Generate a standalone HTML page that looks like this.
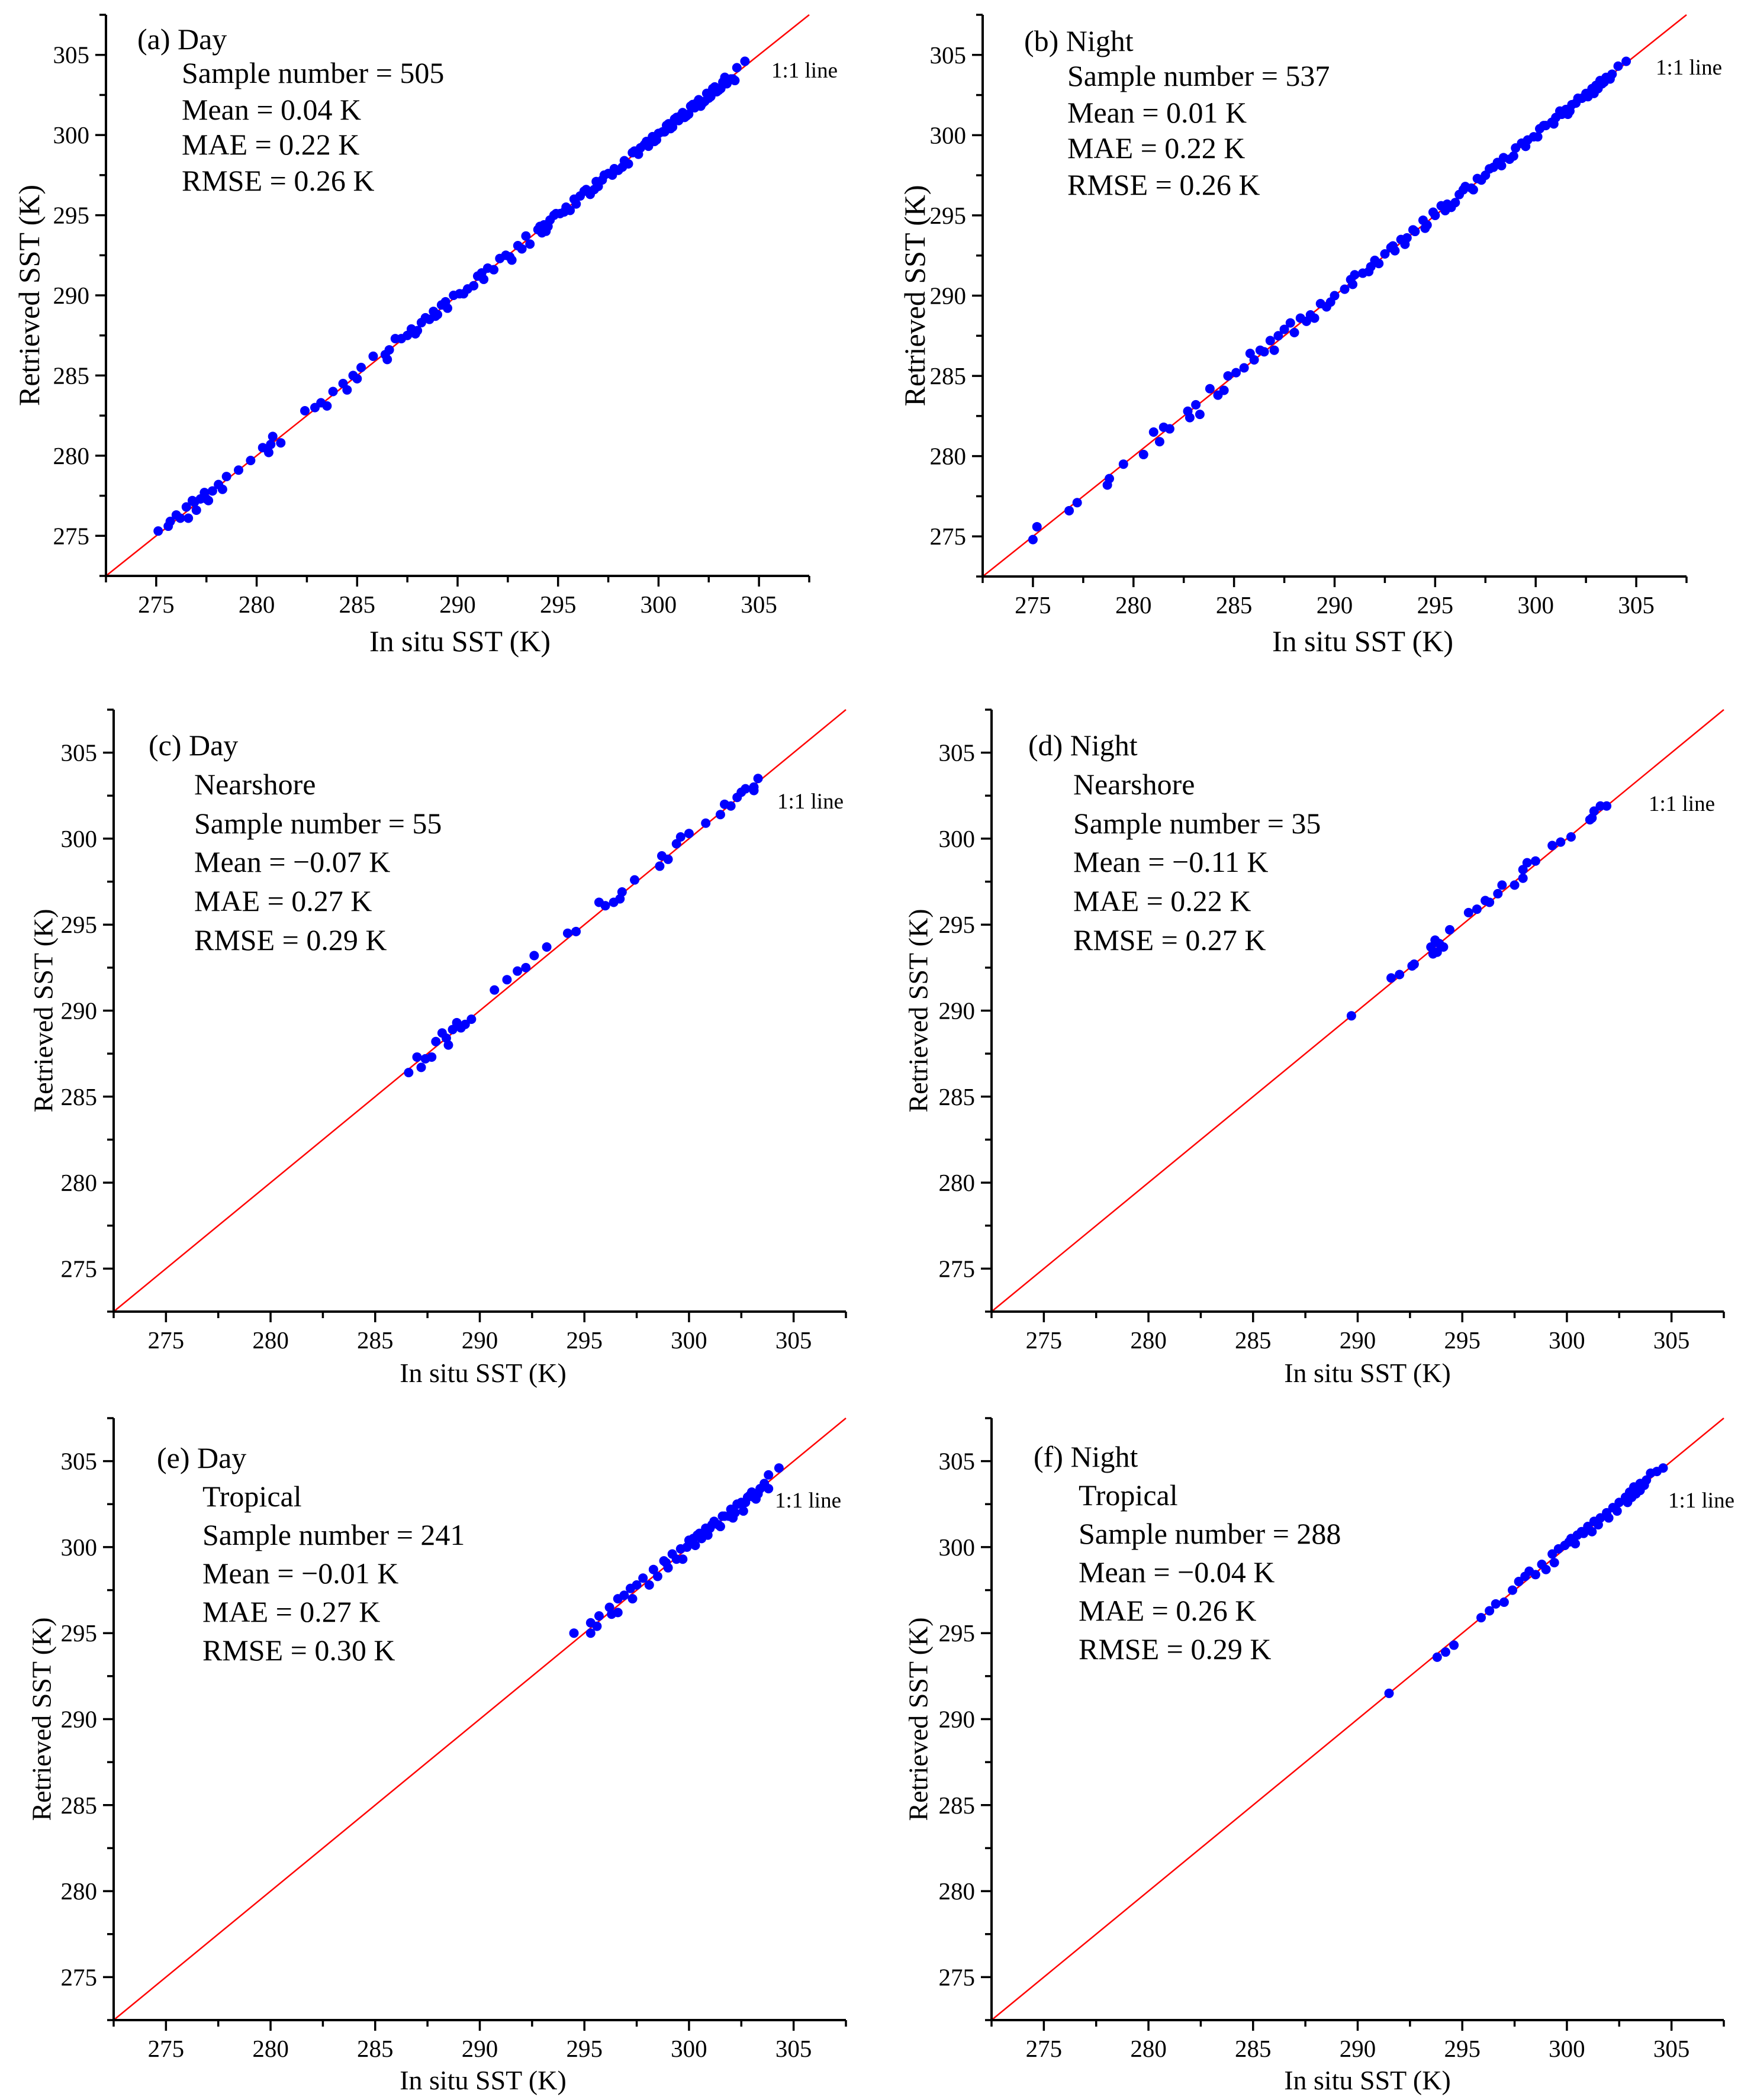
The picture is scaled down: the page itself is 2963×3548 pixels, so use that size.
<!DOCTYPE html>
<html><head><meta charset="utf-8"><style>
html,body{margin:0;padding:0;background:#fff}
svg{display:block}
text{font-family:"Liberation Serif","Times New Roman",serif;fill:#000}
</style></head><body>
<svg id="fig" xmlns="http://www.w3.org/2000/svg" width="2963" height="3548" viewBox="0 0 2963 3548"></svg>
<script>
// ---- data (In situ SST, Retrieved SST) per panel ----
const ticks = [275, 280, 285, 290, 295, 300, 305];
const axisMin = 272.5, axisMax = 307.5;

const aX = [275.1,275.6,275.7,276.0,276.2,276.5,276.6,276.9,277.0,277.2,277.4,277.6,277.8,278.1,278.3,278.5,279.1,279.7,280.3,280.6,280.8,281.2,280.7,282.4,282.9,283.2,283.5,283.8,284.3,284.5,284.8,285.0,285.2,285.8,286.4,286.6,286.5,286.9,287.2,287.5,287.7,287.9,288.2,288.4,288.6,288.8,289.0,289.2,289.5,289.8,290.1,290.5,290.8,291.0,291.3,291.5,291.8,292.1,292.4,292.7,293.0,293.4,293.6,294.0,294.3,294.5,294.8,295.1,295.4,295.6,295.8,296.1,296.3,296.6,296.9,297.2,297.5,297.8,298.0,298.3,298.5,298.8,299.0,299.3,299.5,299.7,300.0,300.2,300.4,300.6,300.8,301.0,301.2,301.4,301.6,301.8,302.0,302.2,302.4,302.6,302.8,303.0,303.2,303.4,303.6,303.8,303.9,304.3,294.2,294.6,297.0,299.8,300.9,301.5,302.3,302.9,303.3,
 276.8,277.5,288.0,288.9,289.4,290.3,291.2,292.6,293.2,294.1,294.4,294.9,295.3,295.9,296.4,296.8,297.3,297.7,298.2,298.7,299.1,299.4,299.9,300.3,300.5,300.7,301.1,301.3,301.7,301.9,302.1,302.5,302.7,303.1,303.5,303.7];
const aY = [275.3,275.6,275.9,276.3,276.1,276.8,276.1,277.1,276.6,277.3,277.7,277.2,277.8,278.2,277.9,278.7,279.1,279.7,280.5,280.2,281.2,280.8,280.7,282.8,283.0,283.3,283.1,284.0,284.5,284.1,285.0,284.8,285.5,286.2,286.3,286.6,286.0,287.3,287.3,287.5,287.9,287.6,288.3,288.6,288.5,289.0,288.8,289.4,289.2,290.0,290.1,290.4,290.6,291.2,291.0,291.7,291.6,292.3,292.5,292.2,293.1,293.7,293.2,294.1,294.4,294.3,295.0,295.1,295.5,295.3,296.0,296.2,296.5,296.3,297.1,297.2,297.6,297.9,297.8,298.4,298.2,299.0,298.8,299.4,299.3,299.9,300.1,300.2,300.6,300.4,301.0,300.9,301.4,301.2,301.8,301.7,302.2,302.0,302.6,302.4,303.0,302.8,303.3,303.2,303.5,303.4,304.2,304.6,293.9,294.7,296.8,299.6,301.1,301.3,302.1,302.7,303.6,
 277.2,277.3,287.8,288.7,289.6,290.1,291.4,292.4,292.9,294.3,294.0,295.1,295.2,295.7,296.6,296.6,297.5,297.5,298.0,298.9,299.2,299.6,299.7,300.2,300.7,300.5,301.2,301.1,301.9,302.0,301.8,302.3,302.9,302.9,303.4,303.5];

const bX = [275.0,275.2,276.8,277.2,278.7,278.8,279.5,280.5,281.0,281.3,281.5,281.8,282.7,282.8,283.1,283.3,283.8,284.2,284.5,284.7,285.1,285.5,285.8,286.0,286.5,286.8,287.2,287.5,287.8,288.0,288.3,288.8,289.0,289.3,289.8,290.0,290.5,290.8,291.0,291.4,291.8,292.0,292.5,292.8,293.0,293.3,293.6,294.0,294.4,294.6,295.0,295.3,295.6,295.8,296.2,296.5,296.8,297.1,297.5,297.9,298.1,298.4,298.7,299.0,299.3,299.6,299.9,300.2,300.5,300.8,301.0,301.3,301.5,301.8,302.0,302.3,302.5,302.8,303.0,303.2,303.5,303.8,304.1,304.5,302.9,303.3,301.6,
 286.3,287.0,288.6,289.6,290.9,291.7,292.2,292.9,293.5,293.9,294.5,294.9,295.5,296.0,296.4,296.9,297.3,297.7,298.3,298.9,299.5,300.1,300.4,300.9,301.2,301.7,302.1,302.6,303.1,303.4,303.7];
const bY = [274.8,275.6,276.6,277.1,278.2,278.6,279.5,280.1,281.5,280.9,281.8,281.7,282.8,282.4,283.2,282.6,284.2,283.8,284.1,285.0,285.2,285.5,286.4,286.0,286.5,287.2,287.5,287.9,288.3,287.7,288.6,288.8,288.6,289.5,289.6,290.0,290.4,291.0,291.3,291.4,291.8,292.2,292.6,293.0,292.8,293.5,293.6,294.0,294.7,294.4,295.0,295.6,295.7,295.5,296.3,296.8,296.7,297.3,297.5,298.0,298.3,298.6,298.5,299.2,299.5,299.7,299.9,300.4,300.6,300.8,301.1,301.3,301.6,301.9,302.0,302.3,302.6,302.9,303.1,303.4,303.6,303.8,304.3,304.6,302.6,303.2,301.3,
 286.6,286.6,288.4,289.3,290.7,291.5,292.0,293.1,293.2,294.1,294.2,295.2,295.3,295.8,296.6,296.6,297.2,297.9,298.1,298.7,299.3,299.9,300.6,300.7,301.5,301.5,302.3,302.4,302.9,303.3,303.5];

const cX = [286.6,287.0,287.2,287.4,287.7,287.9,288.2,288.4,288.5,288.7,288.9,289.1,289.3,289.6,290.7,291.3,291.8,292.2,292.6,293.2,294.2,294.6,295.7,296.0,296.4,296.8,296.7,297.4,298.6,298.7,299.0,299.4,299.6,300.0,300.8,301.5,301.7,302.0,302.3,302.5,302.7,303.1,303.3,303.1];
const cY = [286.4,287.3,286.7,287.2,287.3,288.2,288.7,288.4,288.0,288.9,289.3,289.0,289.2,289.5,291.2,291.8,292.3,292.5,293.2,293.7,294.5,294.6,296.3,296.1,296.3,296.9,296.5,297.6,298.4,299.0,298.8,299.7,300.1,300.3,300.9,301.4,302.0,301.9,302.4,302.7,302.9,303.0,303.5,302.8];

const dX = [289.7,291.6,292.0,292.6,292.7,293.5,293.7,293.6,293.8,293.9,294.1,294.4,295.3,295.7,296.1,296.3,296.7,296.9,297.5,297.9,297.9,298.1,298.5,299.3,299.7,300.2,301.1,301.3,301.6,301.9,301.2];
const dY = [289.7,291.9,292.1,292.6,292.7,293.7,294.1,293.3,293.4,293.9,293.7,294.7,295.7,295.9,296.4,296.3,296.8,297.3,297.3,297.7,298.2,298.6,298.7,299.6,299.8,300.1,301.1,301.6,301.9,301.9,301.2];

const eX = [294.5,295.3,295.3,295.6,295.7,296.2,296.3,296.6,296.6,296.9,297.2,297.3,297.5,297.8,298.1,298.3,298.5,298.8,299.0,299.2,299.6,299.7,300.0,300.3,300.4,300.8,300.9,301.2,301.5,301.7,302.0,302.1,302.5,302.6,302.9,303.2,303.4,303.6,303.8,303.8,304.3,299.4,300.6,301.0,301.9,302.3,302.8,303.1,
 298.9,299.9,300.5,301.1,301.4,302.2,302.7,303.0,303.3,300.2,301.6];
const eY = [295.0,295.6,295.0,295.4,296.0,296.5,296.1,296.2,297.0,297.2,297.6,297.0,297.8,298.2,297.8,298.7,298.3,299.2,298.8,299.6,299.9,299.3,300.4,300.1,300.7,301.1,300.7,301.5,301.2,301.8,302.2,301.7,302.6,302.1,303.0,302.8,303.4,303.7,303.4,304.2,304.6,299.3,300.5,301.1,301.8,302.5,302.9,302.9,
 299.1,300.0,300.8,301.3,301.3,302.0,302.6,303.2,303.1,300.5,301.8];

const fX = [291.5,293.8,294.2,294.6,295.9,296.3,296.6,297.0,297.4,297.7,298.0,298.2,298.5,298.8,299.0,299.3,299.6,299.9,300.2,300.5,300.8,301.0,301.3,301.6,301.9,302.2,302.5,302.8,303.0,303.2,303.5,303.8,304.0,304.3,304.6,302.9,302.0,301.2,300.4,299.4,303.5,
 300.1,300.7,301.5,302.4,303.1,303.3,303.7];
const fY = [291.5,293.6,293.9,294.3,295.9,296.3,296.7,296.8,297.5,298.0,298.3,298.6,298.4,299.0,298.7,299.6,299.9,300.1,300.5,300.7,300.8,301.2,301.5,301.7,302.0,302.3,302.6,302.9,303.2,303.5,303.7,303.9,304.3,304.4,304.6,302.6,301.7,300.9,300.2,299.1,303.3,
 300.3,300.9,301.3,302.1,302.9,303.1,303.6];

const panels = [
 {id:'a', xs:aX, ys:aY, x0:179, x1:1367, y0:25, y1:973, tx:232, lx:307, base:[83,140,202,261,322], head:'(a) Day',
  lines:['Sample number = 505','Mean = 0.04 K','MAE = 0.22 K','RMSE = 0.26 K'], ox:1303, oy:131, xtx:777, xty:1100, ytx:49, fs:50},
 {id:'b', xs:bX, ys:bY, x0:1660, x1:2849, y0:25, y1:974, tx:1730, lx:1803, base:[86,145,207,267,329], head:'(b) Night',
  lines:['Sample number = 537','Mean = 0.01 K','MAE = 0.22 K','RMSE = 0.26 K'], ox:2797, oy:126, xtx:2302, xty:1100, ytx:1545, fs:50},
 {id:'c', xs:cX, ys:cY, x0:192, x1:1429, y0:1199, y1:2216, tx:251, lx:328, base:[1276,1342,1408,1473,1539,1605], head:'(c) Day',
  lines:['Nearshore','Sample number = 55','Mean = \u22120.07 K','MAE = 0.27 K','RMSE = 0.29 K'], ox:1313, oy:1366, xtx:816, xty:2335, ytx:73, fs:46},
 {id:'d', xs:dX, ys:dY, x0:1675, x1:2912, y0:1199, y1:2216, tx:1737, lx:1813, base:[1276,1342,1408,1473,1539,1605], head:'(d) Night',
  lines:['Nearshore','Sample number = 35','Mean = \u22120.11 K','MAE = 0.22 K','RMSE = 0.27 K'], ox:2785, oy:1370, xtx:2310, xty:2335, ytx:1551, fs:46},
 {id:'e', xs:eX, ys:eY, x0:192, x1:1429, y0:2396, y1:3413, tx:265, lx:342, base:[2480,2545,2610,2675,2740,2805], head:'(e) Day',
  lines:['Tropical','Sample number = 241','Mean = \u22120.01 K','MAE = 0.27 K','RMSE = 0.30 K'], ox:1309, oy:2547, xtx:816, xty:3530, ytx:70, fs:46},
 {id:'f', xs:fX, ys:fY, x0:1675, x1:2912, y0:2396, y1:3413, tx:1746, lx:1822, base:[2478,2543,2608,2673,2738,2803], head:'(f) Night',
  lines:['Tropical','Sample number = 288','Mean = \u22120.04 K','MAE = 0.26 K','RMSE = 0.29 K'], ox:2818, oy:2547, xtx:2310, xty:3530, ytx:1551, fs:46}
];

const NS = 'http://www.w3.org/2000/svg';
const svg = document.getElementById('fig');
function mk(tag, attrs, parent) {
  const e = document.createElementNS(NS, tag);
  for (const k in attrs) e.setAttribute(k, attrs[k]);
  parent.appendChild(e);
  return e;
}

panels.forEach(p => {
  const g = mk('g', {}, svg);
  
  
  const sx = v => p.x0 + (v - axisMin) / (axisMax - axisMin) * (p.x1 - p.x0);
  const sy = v => p.y1 - (v - axisMin) / (axisMax - axisMin) * (p.y1 - p.y0);

  const l = mk('line', {x1:sx(axisMin), y1:sy(axisMin), x2:sx(axisMax), y2:sy(axisMax), stroke:'#ff0000', 'stroke-width':2.5}, g);
  
  

  const pg = mk('g', {fill:'#0000ff'}, g);
  
  
  p.xs.forEach((xv, i) => {
    const c = mk('circle', {cx:sx(xv), cy:sy(p.ys[i]), r:8}, pg);
    
    
  });

  const ax = mk('g', {stroke:'#000', 'stroke-width':4, fill:'none'}, g);
  
  
  mk('line', {x1:p.x0, y1:p.y0, x2:p.x0, y2:p.y1 + 2}, ax);
  mk('line', {x1:p.x0 - 2, y1:p.y1, x2:p.x1, y2:p.y1}, ax);
  for (let v = axisMin; v <= axisMax + 0.01; v += 2.5) {
    const major = Math.abs(v % 5) < 0.01;
    const len = major ? 18 : 11;
    mk('line', {x1:sx(v), y1:p.y1, x2:sx(v), y2:p.y1 + len, 'stroke-width':3.5}, ax);
    mk('line', {x1:p.x0, y1:sy(v), x2:p.x0 - len, y2:sy(v), 'stroke-width':3.5}, ax);
  }
  ticks.forEach(t => {
    const xt = mk('text', {x:sx(t), y:p.y1 + 62, 'font-size':41, 'text-anchor':'middle'}, g);
    
    
    xt.textContent = t;
    const yt = mk('text', {x:p.x0 - 28, y:sy(t) + 14, 'font-size':41, 'text-anchor':'end'}, g);
    
    
    yt.textContent = t;
  });

  const xt = mk('text', {x:p.xtx, y:p.xty, 'font-size':p.fs, 'text-anchor':'middle'}, g);
  
  
  xt.textContent = 'In situ SST (K)';
  const cy = (p.y0 + p.y1) / 2;
  const yt = mk('text', {x:p.ytx, y:cy, 'font-size':p.fs, 'text-anchor':'middle', 'dominant-baseline':'central', transform:'rotate(-90 ' + p.ytx + ' ' + cy + ')'}, g);
  
  
  yt.textContent = 'Retrieved SST (K)';

  const h = mk('text', {x:p.tx, y:p.base[0], 'font-size':50}, g);
  
  
  h.textContent = p.head;
  p.lines.forEach((s, i) => {
    const t = mk('text', {x:p.lx, y:p.base[i + 1], 'font-size':50}, g);
    
    
    t.textContent = s;
  });
  const o = mk('text', {x:p.ox, y:p.oy, 'font-size':37}, g);
  
  
  o.textContent = '1:1 line';
});
</script>
</body></html>
